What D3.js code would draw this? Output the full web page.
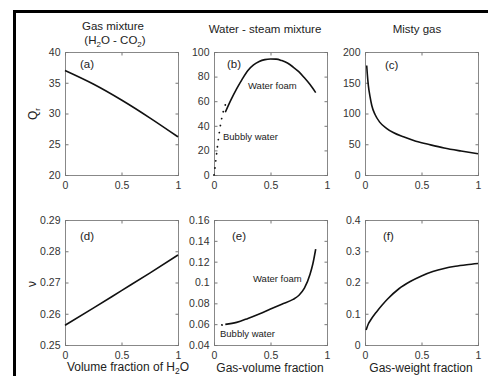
<!DOCTYPE html>
<html>
<head>
<meta charset="utf-8">
<title>Q and nu panels</title>
<script src="https://d3js.org/d3.v7.min.js"></script>
<style>
  body { margin: 0; background: #fff; }
  svg text { font-family: "Liberation Sans", Arial, sans-serif; fill: #222; }
  .tick text { font-size: 10.5px; fill: #333; }
  .tick line { stroke: #777; }
  .domain { display: none; }
</style>
</head>
<body>
<script>
// ---- data ----
const xTicks = [0, 0.5, 1];

// (a) gas mixture, Q_r
const gasX = [0, 0.25, 0.5, 0.75, 1];
const gasQ = [37.0, 34.8, 32.2, 29.3, 26.2];
// (d) gas mixture, nu
const gasNu = [0.2563, 0.2618, 0.2674, 0.2730, 0.2788];

// (b) water-steam, Q_r
const bubblyX = [0, 0.01, 0.02, 0.04, 0.06, 0.08, 0.1];
const bubblyQ = [0, 7, 15, 30, 42, 51, 57];
const foamX = [0.1, 0.15, 0.2, 0.25, 0.3, 0.35, 0.4, 0.45, 0.5, 0.55, 0.6, 0.65, 0.7, 0.75, 0.8, 0.85, 0.9];
const foamQ = [51, 61, 70, 78, 85, 89.5, 92.3, 93.8, 94.3, 94.2, 93, 91, 87.8, 84, 79, 73.5, 67];
// (e) water-steam, nu
const bubblyNuX = [0.07, 0.1];
const bubblyNu = [0.0592, 0.0596];
const foamNuX = [0.1, 0.2, 0.3, 0.4, 0.5, 0.6, 0.7, 0.75, 0.8, 0.85, 0.875, 0.9];
const foamNu = [0.0598, 0.0617, 0.0655, 0.0698, 0.0745, 0.0792, 0.0838, 0.0875, 0.0945, 0.108, 0.118, 0.132];

// (c) misty gas, Q_r
const mistX = [0.015, 0.02, 0.03, 0.045, 0.06, 0.09, 0.13, 0.19, 0.25, 0.34, 0.45, 0.58, 0.7, 0.85, 1];
const mistQ = [178, 165, 145, 127, 113, 98, 86, 76, 69, 62, 55, 49, 44, 39, 34.5];
// (f) misty gas, nu
const mistNuX = [0.01, 0.03, 0.05, 0.1, 0.15, 0.2, 0.3, 0.4, 0.5, 0.6, 0.7, 0.8, 0.9, 1];
const mistNu = [0.048, 0.068, 0.08, 0.105, 0.127, 0.147, 0.18, 0.203, 0.221, 0.235, 0.245, 0.252, 0.257, 0.261];

const qTicksA = [20, 25, 30, 35, 40];
const qTicksB = [0, 20, 40, 60, 80, 100];
const qTicksC = [0, 50, 100, 150, 200];
const nuTicksD = [0.25, 0.26, 0.27, 0.28, 0.29];
const nuTicksE = [0.04, 0.06, 0.08, 0.1, 0.12, 0.14, 0.16];
const nuTicksF = [0, 0.1, 0.2, 0.3, 0.4];

const W = 494, H = 376;
const svg = d3.select("body").append("svg").attr("width", W).attr("height", H);

// outer frame (top and left edges only visible)
svg.append("line").attr("x1", 13).attr("x2", 488).attr("y1", 11.5).attr("y2", 11.5)
  .attr("stroke", "#000").attr("stroke-width", 3);
svg.append("line").attr("x1", 14.5).attr("x2", 14.5).attr("y1", 10).attr("y2", H)
  .attr("stroke", "#000").attr("stroke-width", 3);

const cols = [65, 214, 365];
const pw = 113;
const rows = [{ top: 52, h: 123 }, { top: 220, h: 125 }];

function panel(col, row, yDomain, yTicks, letter, series) {
  const x0 = cols[col], y0 = rows[row].top, h = rows[row].h;
  const x = d3.scaleLinear().domain([0, 1]).range([x0, x0 + pw]);
  const y = d3.scaleLinear().domain(yDomain).range([y0 + h, y0]);
  const g = svg.append("g");

  g.append("rect").attr("x", x0 + 0.5).attr("y", y0 + 0.5).attr("width", pw).attr("height", h)
    .attr("fill", "none").attr("stroke", "#888").attr("stroke-width", 1);

  g.append("g").attr("transform", `translate(${x0 + 0.5},0)`)
    .call(d3.axisLeft(y).tickValues(yTicks).tickSizeInner(-3).tickSizeOuter(0).tickPadding(5)
      .tickFormat(d3.format("~g")));
  g.append("g").attr("transform", `translate(${x0 + pw + 0.5},0)`)
    .call(d3.axisRight(y).tickValues(yTicks).tickSizeInner(-3).tickSizeOuter(0).tickFormat(""));
  g.append("g").attr("transform", `translate(0,${y0 + h + 0.5})`)
    .call(d3.axisBottom(x).tickValues(xTicks).tickSizeInner(-3).tickSizeOuter(0).tickPadding(6)
      .tickFormat(d3.format("~g")));
  g.append("g").attr("transform", `translate(0,${y0 + 0.5})`)
    .call(d3.axisTop(x).tickValues(xTicks).tickSizeInner(-3).tickSizeOuter(0).tickFormat(""));

  series.forEach(s => {
    const line = d3.line().x(d => x(d[0])).y(d => y(d[1])).curve(d3.curveMonotoneX);
    g.append("path").datum(d3.zip(s.xs, s.ys))
      .attr("d", line).attr("fill", "none").attr("stroke", "#111")
      .attr("stroke-width", 1.6)
      .attr("stroke-dasharray", s.dotted ? "0.1,7" : null)
      .attr("stroke-linecap", s.dotted ? "round" : "butt")
      .attr("stroke-width", s.dotted ? 1.8 : 1.6);
  });

  g.append("text").attr("x", x0 + letter.dx).attr("y", y0 + letter.dy)
    .attr("font-size", 11.5).text(letter.t);
  return { g, x, y };
}

panel(0, 0, [20, 40], qTicksA, { t: "(a)", dx: 15, dy: 16 },
  [{ xs: gasX, ys: gasQ }]);
panel(1, 0, [0, 100], qTicksB, { t: "(b)", dx: 13, dy: 16 },
  [{ xs: bubblyX, ys: bubblyQ, dotted: true }, { xs: foamX, ys: foamQ }]);
panel(2, 0, [0, 200], qTicksC, { t: "(c)", dx: 20, dy: 17 },
  [{ xs: mistX, ys: mistQ }]);
panel(0, 1, [0.25, 0.29], nuTicksD, { t: "(d)", dx: 15, dy: 20 },
  [{ xs: gasX, ys: gasNu }]);
panel(1, 1, [0.04, 0.16], nuTicksE, { t: "(e)", dx: 18, dy: 20 },
  [{ xs: bubblyNuX, ys: bubblyNu, dotted: true }, { xs: foamNuX, ys: foamNu }]);
panel(2, 1, [0, 0.4], nuTicksF, { t: "(f)", dx: 18, dy: 20 },
  [{ xs: mistNuX, ys: mistNu }]);

// curve annotations
const note = (x, y, t) => svg.append("text").attr("x", x).attr("y", y)
  .attr("font-size", 9.5).text(t);
note(248, 89, "Water foam");
note(223, 140, "Bubbly water");
note(253, 282, "Water foam");
note(220, 337, "Bubbly water");

// column titles
const title = svg.append("g").attr("font-size", 11.5).attr("text-anchor", "middle");
title.append("text").attr("x", 113).attr("y", 30).text("Gas mixture");
const t2 = title.append("text").attr("x", 115).attr("y", 44);
t2.append("tspan").text("(H");
t2.append("tspan").attr("font-size", 8).attr("dy", 3).text("2");
t2.append("tspan").attr("dy", -3).text("O - CO");
t2.append("tspan").attr("font-size", 8).attr("dy", 3).text("2");
t2.append("tspan").attr("dy", -3).text(")");
title.append("text").attr("x", 265).attr("y", 33).text("Water - steam mixture");
title.append("text").attr("x", 417).attr("y", 33).text("Misty gas");

// x-axis labels
const xl = svg.append("g").attr("font-size", 12).attr("text-anchor", "middle");
const l1 = xl.append("text").attr("x", 128).attr("y", 371);
l1.append("tspan").text("Volume fraction of H");
l1.append("tspan").attr("font-size", 8.5).attr("dy", 2.5).text("2");
l1.append("tspan").attr("dy", -2.5).text("O");
xl.append("text").attr("x", 270).attr("y", 372).text("Gas-volume fraction");
xl.append("text").attr("x", 421).attr("y", 372).text("Gas-weight fraction");

// y-axis labels
const yq = svg.append("text").attr("font-size", 12).attr("text-anchor", "middle")
  .attr("transform", "translate(37,114) rotate(-90)");
yq.append("tspan").text("Q");
yq.append("tspan").attr("font-size", 8).attr("dy", 3).text("r");
svg.append("text").attr("font-size", 12).attr("text-anchor", "middle")
  .attr("transform", "translate(36,284) rotate(-90)").text("ν");
</script>
</body>
</html>
